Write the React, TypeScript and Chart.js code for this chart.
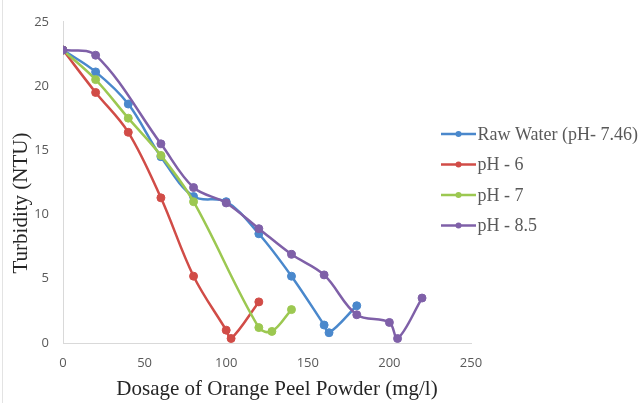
import React, { useEffect, useRef } from "react";
import { Chart, registerables } from "chart.js";
Chart.register(...registerables);

const seriesNames = ["Raw Water (pH- 7.46)", "pH - 6", "pH - 7", "pH - 8.5"];
const seriesColors = ["#4a88cc", "#d14c47", "#9cc851", "#7f60a8"];

const rawDose = [0, 20, 40, 60, 80, 100, 120, 140, 160, 163, 180];
const rawTurb = [22.8, 21.1, 18.6, 14.5, 11.4, 11.0, 8.5, 5.2, 1.4, 0.8, 2.9];
const ph6Dose = [0, 20, 40, 60, 80, 100, 103, 120];
const ph6Turb = [22.8, 19.5, 16.4, 11.3, 5.2, 1.0, 0.35, 3.2];
const ph7Dose = [0, 20, 40, 60, 80, 120, 128, 140];
const ph7Turb = [22.8, 20.5, 17.5, 14.6, 11.0, 1.2, 0.9, 2.6];
const ph85Dose = [0, 20, 60, 80, 100, 120, 140, 160, 180, 200, 205, 220];
const ph85Turb = [22.8, 22.4, 15.5, 12.1, 10.9, 8.9, 6.9, 5.3, 2.2, 1.6, 0.35, 3.5];

const xTicks = [0, 50, 100, 150, 200, 250];
const yTicks = [0, 5, 10, 15, 20, 25];

const xTitle = "Dosage of Orange Peel Powder (mg/l)";
const yTitle = "Turbidity (NTU)";

const W = 644;
const H = 403;

function pts(xs: number[], ys: number[]) {
  return xs.map((x, i) => ({ x, y: ys[i] }));
}

const decorPlugin = {
  id: "decor",
  afterDraw(chart: any) {
    const ctx = chart.ctx as CanvasRenderingContext2D;
    const area = chart.chartArea;
    ctx.save();
    // faint left frame line
    ctx.strokeStyle = "#e3e3e3";
    ctx.lineWidth = 1;
    ctx.beginPath();
    ctx.moveTo(2.5, 0);
    ctx.lineTo(2.5, H);
    ctx.stroke();

    // axis titles
    ctx.fillStyle = "#262626";
    ctx.font = '21px "Liberation Serif", "Times New Roman", serif';
    ctx.textAlign = "center";
    ctx.textBaseline = "alphabetic";
    ctx.fillText(xTitle, (area.left + area.right) / 2 + 10, 395);
    ctx.save();
    ctx.translate(27, 203);
    ctx.rotate(-Math.PI / 2);
    ctx.fillText(yTitle, 0, 0);
    ctx.restore();

    // legend
    const x0 = 441;
    const x1 = 476;
    const rows = [134, 164.5, 195, 225.5];
    ctx.font = '18px "Liberation Serif", "Times New Roman", serif';
    ctx.textAlign = "left";
    ctx.textBaseline = "middle";
    chart.data.datasets.forEach((ds: any, i: number) => {
      const y = rows[i];
      ctx.strokeStyle = ds.borderColor;
      ctx.lineWidth = 2.5;
      ctx.beginPath();
      ctx.moveTo(x0, y);
      ctx.lineTo(x1, y);
      ctx.stroke();
      ctx.fillStyle = ds.borderColor;
      ctx.beginPath();
      ctx.arc((x0 + x1) / 2, y, 3, 0, Math.PI * 2);
      ctx.fill();
      ctx.fillStyle = "#595959";
      ctx.fillText(ds.label, x1 + 1.5, y + 1);
    });
    ctx.restore();
  },
};

export default function App() {
  const ref = useRef<HTMLCanvasElement | null>(null);
  useEffect(() => {
    document.body.style.margin = "0";
    const canvas = ref.current;
    if (!canvas) return;
    const series = [
      pts(rawDose, rawTurb),
      pts(ph6Dose, ph6Turb),
      pts(ph7Dose, ph7Turb),
      pts(ph85Dose, ph85Turb),
    ];
    const chart = new Chart(canvas, {
      type: "line",
      data: {
        datasets: series.map((d, i) => ({
          label: seriesNames[i],
          data: d,
          borderColor: seriesColors[i],
          backgroundColor: seriesColors[i],
          pointBackgroundColor: seriesColors[i],
          pointBorderColor: seriesColors[i],
          pointRadius: 4,
          pointBorderWidth: 1,
          borderWidth: 2.5,
          tension: 0.35,
          fill: false,
          order: 3 - i,
        })),
      },
      options: {
        responsive: false,
        animation: false,
        layout: { padding: { left: 0, right: W - 471, top: 19, bottom: 0 } },
        plugins: { legend: { display: false }, tooltip: { enabled: false } },
        scales: {
          x: {
            type: "linear",
            min: xTicks[0],
            max: xTicks[xTicks.length - 1],
            afterBuildTicks: (s: any) => {
              s.ticks = xTicks.map((v) => ({ value: v }));
            },
            afterFit: (s: any) => {
              s.height = H - 343 - 0;
            },
            grid: { display: false, drawTicks: false, tickLength: 0 },
            border: { display: true, color: "#d9d9d9", width: 1 },
            ticks: {
              padding: 12,
              color: "#595959",
              font: { family: '"Open Sans", "DejaVu Sans", sans-serif', size: 13 },
              maxRotation: 0,
            },
          },
          y: {
            type: "linear",
            min: yTicks[0],
            max: yTicks[yTicks.length - 1],
            afterBuildTicks: (s: any) => {
              s.ticks = yTicks.map((v) => ({ value: v }));
            },
            afterFit: (s: any) => {
              s.width = 63;
            },
            grid: { display: false, drawTicks: false, tickLength: 0 },
            border: { display: true, color: "#d9d9d9", width: 1 },
            ticks: {
              padding: 14,
              color: "#595959",
              font: { family: '"Open Sans", "DejaVu Sans", sans-serif', size: 13 },
            },
          },
        },
      },
      plugins: [decorPlugin],
    } as any);
    return () => chart.destroy();
  }, []);
  return (
    <div style={{ width: W, height: H, background: "#fff" }}>
      <canvas ref={ref} width={W} height={H} style={{ display: "block" }} />
    </div>
  );
}
